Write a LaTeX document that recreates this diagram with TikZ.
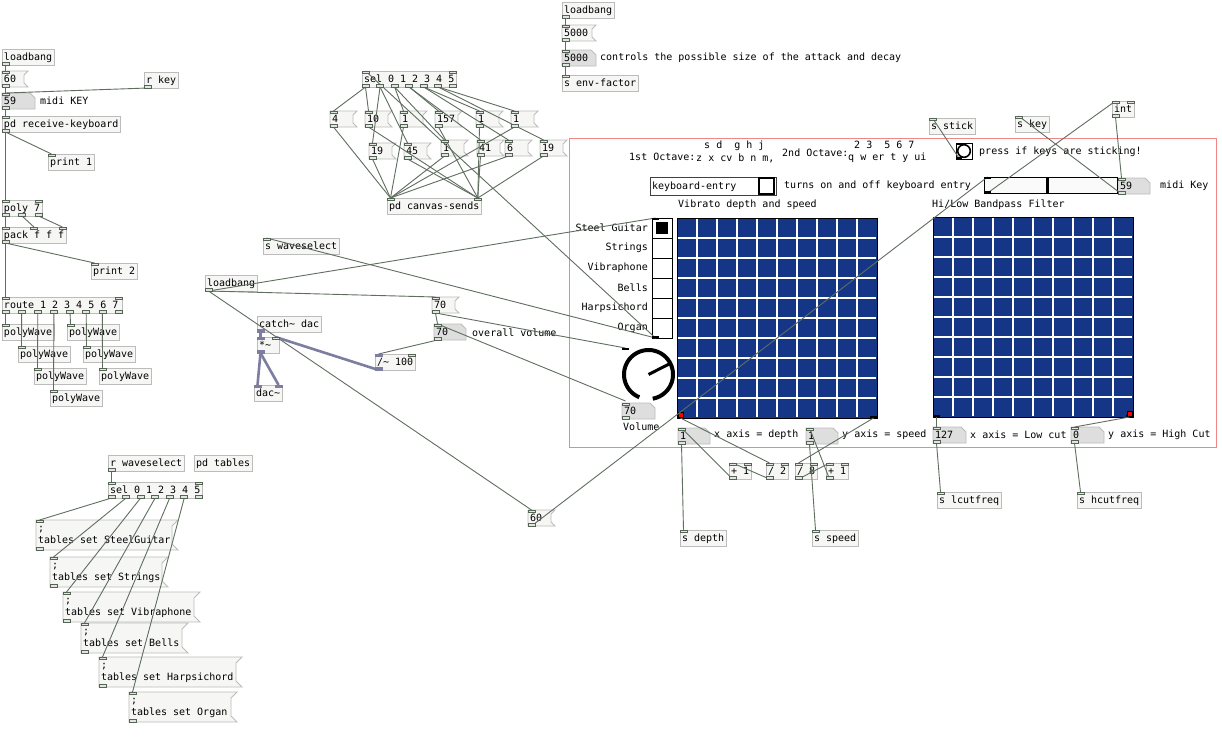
\documentclass[tikz,border=0pt]{standalone}
\usepackage{fontspec}
\newfontfamily\pdfont{DejaVu Sans Mono}
\usetikzlibrary{calc}
\pgfdeclarelayer{background}
\pgfsetlayers{background,main}
\definecolor{objline}{RGB}{188,188,188}
\definecolor{objfill}{RGB}{246,247,245}
\definecolor{numfill}{RGB}{222,222,222}
\definecolor{wirecol}{RGB}{95,110,95}
\definecolor{iocol}{RGB}{85,100,85}
\definecolor{iofill}{RGB}{225,230,225}
\definecolor{sigcol}{RGB}{125,125,160}
\definecolor{gridblue}{RGB}{21,53,135}
\definecolor{panelred}{RGB}{240,135,135}
\newcommand\pdtxt{\pdfont\fontsize{10pt}{12pt}\selectfont}
\newcommand\bw[2]{\makebox[#1pt][l]{#2}}
\newcommand\ins[2]{\foreach \q in {#2}{\draw[iost] ($(#1.north west)+(\q,0)$) rectangle ++(7,2.5);}}
\newcommand\outs[2]{\foreach \q in {#2}{\draw[iost] ($(#1.south west)+(\q,0)$) rectangle ++(7,-2.5);}}
\newcommand\wire[4]{\draw[wire] ($(#1.south west)+(#2+3.5,0)$) -- ($(#3.north west)+(#4+3.5,0)$);}
\newcommand\msgshape[2][4]{\begin{pgfonlayer}{background}\filldraw[draw=objline, fill=objfill, line width=0.9pt] (#2.north west) -- (#2.north east) -- ($(#2.north east)+(-#1,#1)$) -- ($(#2.south east)+(-#1,-#1)$) -- (#2.south east) -- (#2.south west) -- cycle;\end{pgfonlayer}}
\newcommand\numshape[1]{\begin{pgfonlayer}{background}\filldraw[draw=objline, fill=numfill, line width=0.9pt] (#1.north west) -- ($(#1.north east)+(-5,0)$) -- ($(#1.north east)+(0,5)$) -- (#1.south east) -- (#1.south west) -- cycle;\end{pgfonlayer}}
\newcommand\tlines[2]{\begin{tabular}{@{}l@{}};\\\bw{#1}{#2}\end{tabular}}
\begin{document}
\begin{tikzpicture}[x=1pt,y=-1pt,
 box/.style={anchor=north west, inner xsep=2pt, inner ysep=0pt, outer sep=0pt, minimum height=16pt, text height=7.5pt, text depth=1pt, font=\pdtxt},
 obj/.style={box, draw=objline, fill=objfill, line width=0.9pt},
 msgb/.style={box},
 numb/.style={box},
 tmsg/.style={anchor=north west, inner xsep=2pt, inner ysep=3pt, outer sep=0pt, minimum height=30pt, font=\pdtxt},
 cmt/.style={anchor=west, inner sep=0pt, font=\pdtxt},
 cmtr/.style={anchor=east, inner sep=0pt, font=\pdtxt},
 iem/.style={anchor=north west, inner sep=0pt, outer sep=0pt, draw=black, line width=0.9pt},
 wire/.style={draw=wirecol, line width=0.9pt},
 sig/.style={draw=sigcol, line width=2.6pt},
 iost/.style={draw=iocol, fill=iofill, line width=0.7pt},
 sigio/.style={draw=sigcol, fill=sigcol, line width=0.7pt},
]
\useasboundingbox (0,0) rectangle (1222,748);
\begin{pgfonlayer}{background}\fill[white] (0,0) rectangle (1222,748);\end{pgfonlayer}

% ---------- panel ----------
\draw[panelred, line width=0.9pt] (569,138) rectangle (1216,447);

% ---------- top-left ----------
\node[obj] (lb1) at (2,49) {loadbang};
\node[msgb] (m60) at (2,71) {\bw{22}{60}}; \msgshape{m60}
\node[obj] (rkey) at (144,72) {r key};
\node[numb] (n59) at (2,93) {\bw{29}{59}}; \numshape{n59}
\node[cmt] (c59) at (40,101) {midi KEY};
\node[obj] (prk) at (2,116) {pd receive-keyboard};
\node[obj] (pr1) at (48,154) {print 1};
\node[obj] (poly) at (2,200) {poly 7};
\node[obj] (pack) at (2,227) {pack f f f};
\node[obj] (pr2) at (91,263) {print 2};
\node[obj] (route) at (2,297) {\bw{116}{route 1 2 3 4 5 6 7}};
\node[obj] (pw1) at (2,324) {polyWave};
\node[obj] (pw2) at (18,346) {polyWave};
\node[obj] (pw3) at (34,368) {polyWave};
\node[obj] (pw4) at (50,390) {polyWave};
\node[obj] (pw5) at (67,324) {polyWave};
\node[obj] (pw6) at (83,346) {polyWave};
\node[obj] (pw7) at (99,368) {polyWave};

% ---------- top centre ----------
\node[obj] (lb2) at (562,2) {loadbang};
\node[msgb] (m5000) at (562,25) {\bw{30}{5000}}; \msgshape{m5000}
\node[numb] (n5000) at (562,50) {\bw{30}{5000}}; \numshape{n5000}
\node[cmt] (c5000) at (600,58) {controls the possible size of the attack and decay};
\node[obj] (senv) at (562,75) {s env-factor};

% ---------- sel group ----------
\node[obj] (sel1) at (362,71) {sel 0 1 2 3 4 5};
\node[msgb] (m4) at (330,111) {\bw{23}{4}}; \msgshape{m4}
\node[msgb] (m10) at (365,111) {\bw{23}{10}}; \msgshape{m10}
\node[msgb] (m1a) at (400,111) {\bw{23}{1}}; \msgshape{m1a}
\node[msgb] (m157) at (435,111) {\bw{23}{157}}; \msgshape{m157}
\node[msgb] (m1b) at (476,111) {\bw{23}{1}}; \msgshape{m1b}
\node[msgb] (m1c) at (511,111) {\bw{23}{1}}; \msgshape{m1c}
\node[msgb] (m19) at (369,143) {\bw{23}{19}}; \msgshape{m19}
\node[msgb] (m45) at (404,143) {\bw{23}{45}}; \msgshape{m45}
\node[msgb] (m1d) at (441,140) {\bw{23}{1}}; \msgshape{m1d}
\node[msgb] (m41) at (477,140) {\bw{23}{41}}; \msgshape{m41}
\node[msgb] (m6) at (505,140) {\bw{23}{6}}; \msgshape{m6}
\node[msgb] (m19b) at (540,140) {\bw{23}{19}}; \msgshape{m19b}
\node[obj] (pdcs) at (387,198) {pd canvas-sends};

% ---------- middle ----------
\node[obj] (swave) at (263,238) {s waveselect};
\node[obj] (lb3) at (205,275) {loadbang};
\node[msgb] (m70) at (432,297) {\bw{23}{70}}; \msgshape{m70}
\node[numb] (n70) at (434,324) {\bw{28}{70}}; \numshape{n70}
\node[cmt] (c70) at (472,333) {overall volume};
\node[obj] (catch) at (257,316) {catch\textasciitilde{} dac};
\node[obj] (mul) at (257,337) {\bw{18}{*\textasciitilde}};
\node[obj] (dac) at (254,385) {dac\textasciitilde};
\node[obj] (div) at (375,354) {/\textasciitilde{} 100};
\node[msgb] (m60b) at (528,510) {\bw{23}{60}}; \msgshape{m60b}

% ---------- panel contents ----------
\node[cmt] (oct1) at (629,157) {1st Octave:};
\node[cmt] (oct1b) at (704,146) {s d\ \ g h j};
\node[cmt] (oct1c) at (696,158) {z x cv b n m,};
\node[cmt] (oct2) at (782,153) {2nd Octave:};
\node[cmt] (oct2b) at (854,145) {2 3\ \ 5 6 7};
\node[cmt] (oct2c) at (848,158) {q w er t y ui};
\node[iem, fill=white, minimum size=16pt] (bang) at (956,143) {};
\draw[line width=1.6pt] (bang.center) circle[radius=6.3pt];
\node[cmt] (cstick) at (979,152) {press if keys are sticking!};
\node[iem, fill=white, draw=black!75, minimum height=18pt, inner xsep=2pt, font=\pdtxt, text height=7.5pt, text depth=1pt] (kbe) at (650,177) {\bw{122}{keyboard-entry}};
\node[iem, fill=white, minimum width=15pt, minimum height=16pt, line width=1.3pt] (tog) at (759,178) {};
\node[cmt] (ckbe) at (784,186) {turns on and off keyboard entry};
\node[iem, fill=black!2, minimum width=133pt, minimum height=16pt] (hsl) at (984,177) {};
\draw[line width=3pt] ($(hsl.north west)+(63,0)$) -- ($(hsl.south west)+(63,0)$);
\node[numb] (n59b) at (1118,178) {\bw{28}{59}}; \numshape{n59b}
\node[cmt] (cmk) at (1160,186) {midi Key};
\node[cmt] (cvib) at (678,205) {Vibrato depth and speed};
\node[cmt] (cbp) at (932,205) {Hi/Low Bandpass Filter};

% radio
\node[iem, fill=white, minimum width=20pt, minimum height=120pt] (radio) at (652,218) {};
\foreach \k in {1,...,5} \draw[line width=0.9pt] ($(radio.north west)+(0,20*\k)$) -- ($(radio.north east)+(0,20*\k)$);
\fill ($(radio.north west)+(4,4)$) rectangle ++(12,12);
\node[cmtr] (r1) at (648,228) {Steel Guitar};
\node[cmtr] (r2) at (648,248) {Strings};
\node[cmtr] (r3) at (648,268) {Vibraphone};
\node[cmtr] (r4) at (648,288) {Bells};
\node[cmtr] (r5) at (648,308) {Harpsichord};
\node[cmtr] (r6) at (648,328) {Organ};

% grids
\node[iem, fill=gridblue, minimum width=200pt, minimum height=200pt] (g1) at (677,218) {};
\node[iem, fill=gridblue, minimum width=200pt, minimum height=200pt] (g2) at (933,217) {};
\foreach \g in {g1,g2}{
  \foreach \k in {1,...,9}{
    \draw[white, line width=1.3pt] ($(\g.north west)+(20*\k,0.6)$) -- ($(\g.south west)+(20*\k,-0.6)$);
    \draw[white, line width=1.3pt] ($(\g.north west)+(0.6,20*\k)$) -- ($(\g.north east)+(-0.6,20*\k)$);
  }
  \fill ($(\g.south west)+(0,0.5)$) rectangle ++(7,-2.5);
  \fill ($(\g.south east)+(-7,0.5)$) rectangle ++(7,-2.5);
}
\draw[fill=red, draw=black, line width=0.5pt] ($(g1.south west)+(1,-1)$) rectangle ++(5,-5);
\draw[fill=red, draw=black, line width=0.5pt] ($(g2.south east)+(-6,-1)$) rectangle ++(5,-5);

% knob
\node[anchor=north west, minimum size=53pt, inner sep=0pt, outer sep=0pt] (knob) at (622,348) {};
\draw[line width=4pt] plot[domain=112:440, samples=80] ({648.5+24.5*cos(\x)},{374.5+24.5*sin(\x)});
\draw[line width=3pt] (knob.center) -- ++(-27:23);
\node[numb] (nvol) at (622,403) {\bw{29}{70}}; \numshape{nvol}
\node[cmt] (cvol) at (623,427) {Volume};

\node[numb] (ndepth) at (678,428) {\bw{28}{1}}; \numshape{ndepth}
\node[cmt] (cdepth) at (714,435) {x axis = depth};
\node[numb] (nspeed) at (806,428) {\bw{28}{1}}; \numshape{nspeed}
\node[cmt] (cspeed) at (842,435) {y axis = speed};
\node[numb] (n127) at (933,427) {\bw{29}{127}}; \numshape{n127}
\node[cmt] (clow) at (970,435) {x axis = Low cut};
\node[numb] (n0) at (1071,427) {\bw{29}{0}}; \numshape{n0}
\node[cmt] (chigh) at (1108,435) {y axis = High Cut};

\node[obj] (plus1) at (729,463) {+ 1};
\node[obj] (div2) at (766,463) {/ 2};
\node[obj] (div8) at (795,463) {/ 8};
\node[obj] (plus1b) at (826,463) {+ 1};
\node[obj] (sdepth) at (680,530) {s depth};
\node[obj] (sspeed) at (812,530) {s speed};
\node[obj] (slcut) at (937,492) {s lcutfreq};
\node[obj] (shcut) at (1077,492) {s hcutfreq};

\node[obj] (sstick) at (929,118) {s stick};
\node[obj] (skey) at (1015,116) {s key};
\node[obj] (intb) at (1112,101) {int};

% ---------- bottom-left ----------
\node[obj] (rws) at (108,455) {r waveselect};
\node[obj] (pdt) at (194,455) {pd tables};
\node[obj] (sel2) at (108,482) {sel 0 1 2 3 4 5};
\node[tmsg] (tm1) at (36,520) {\tlines{138}{tables set SteelGuitar}}; \msgshape[6]{tm1}
\node[tmsg] (tm2) at (50,557) {\tlines{114}{tables set Strings}}; \msgshape[6]{tm2}
\node[tmsg] (tm3) at (63,592) {\tlines{133}{tables set Vibraphone}}; \msgshape[6]{tm3}
\node[tmsg] (tm4) at (81,623) {\tlines{103}{tables set Bells}}; \msgshape[6]{tm4}
\node[tmsg] (tm5) at (99,657) {\tlines{139}{tables set Harpsichord}}; \msgshape[6]{tm5}
\node[tmsg] (tm6) at (129,692) {\tlines{104}{tables set Organ}}; \msgshape[6]{tm6}

% ================= wires =================
\wire{lb1}{0}{m60}{0}
\wire{m60}{0}{n59}{0}
\wire{rkey}{0}{n59}{0}
\wire{n59}{0}{prk}{0}
\wire{prk}{0}{pr1}{0}
\wire{prk}{0}{poly}{0}
\wire{poly}{0}{pack}{0}
\wire{poly}{16.5}{pack}{28.5}
\wire{poly}{33}{pack}{57}
\wire{pack}{0}{pr2}{0}
\wire{pack}{0}{route}{0}
\wire{route}{0}{pw1}{0}
\wire{route}{16.14}{pw2}{0}
\wire{route}{32.29}{pw3}{0}
\wire{route}{48.43}{pw4}{0}
\wire{route}{64.57}{pw5}{0}
\wire{route}{80.71}{pw6}{0}
\wire{route}{96.86}{pw7}{0}

\wire{lb2}{0}{m5000}{0}
\wire{m5000}{0}{n5000}{0}
\wire{n5000}{0}{senv}{0}

\wire{sel1}{0}{m4}{0}
\wire{sel1}{0}{m10}{0}
\wire{sel1}{14.55}{m19}{0}
\wire{sel1}{14.55}{m45}{0}
\wire{sel1}{29.1}{m1a}{0}
\wire{sel1}{29.1}{m1d}{0}
\wire{sel1}{43.65}{m157}{0}
\wire{sel1}{43.65}{m41}{0}
\wire{sel1}{58.2}{m1b}{0}
\wire{sel1}{58.2}{m6}{0}
\wire{sel1}{72.75}{m1c}{0}
\wire{sel1}{72.75}{m19b}{0}
\foreach \m in {m4,m19,m1a,m1d,m6,m1c} {\wire{\m}{0}{pdcs}{0}}
\foreach \m in {m10,m45,m157,m1b,m41,m19b} {\wire{\m}{0}{pdcs}{87.3}}

\wire{radio}{0}{sel1}{0}
\wire{radio}{0}{swave}{0}
\wire{lb3}{0}{radio}{0}
\wire{lb3}{0}{m70}{0}
\wire{lb3}{0}{m60b}{0}
\wire{m70}{0}{n70}{0}
\wire{m70}{0}{knob}{0}
\draw[wire] ($(knob.south west)+(3.5,0)$) -- ($(n70.north west)+(3.5,0)$);
\wire{n70}{0}{div}{0}
\wire{m60b}{0}{hsl}{0}
\wire{hsl}{0}{intb}{0}
\wire{intb}{0}{n59b}{0}
\draw[wire] ($(n59b.south west)+(3.5,0)$) -- ($(skey.north west)+(3.5,0)$);
\draw[wire] ($(bang.south west)+(3.5,0)$) -- ($(sstick.north west)+(3.5,0)$);

\draw[sig] ($(catch.south west)+(3.5,0)$) -- ($(mul.north west)+(3.5,0)$);
\draw[sig] ($(div.south west)+(3.5,0)$) -- ($(mul.north east)+(-3.5,0)$);
\draw[sig] ($(mul.south west)+(3.5,0)$) -- ($(dac.north west)+(3.5,0)$);
\draw[sig] ($(mul.south west)+(3.5,0)$) -- ($(dac.north east)+(-3.5,0)$);

\wire{g1}{0}{div2}{0}
\draw[wire] ($(g1.south east)+(-3.5,0)$) -- ($(div8.north west)+(3.5,0)$);
\wire{div2}{0}{plus1}{0}
\wire{plus1}{0}{ndepth}{0}
\wire{div8}{0}{plus1b}{0}
\wire{plus1b}{0}{nspeed}{0}
\wire{ndepth}{0}{sdepth}{0}
\wire{nspeed}{0}{sspeed}{0}
\wire{g2}{0}{n127}{0}
\draw[wire] ($(g2.south east)+(-3.5,0)$) -- ($(n0.north west)+(3.5,0)$);
\wire{n127}{0}{slcut}{0}
\wire{n0}{0}{shcut}{0}

\wire{rws}{0}{sel2}{0}
\wire{sel2}{0}{tm1}{0}
\wire{sel2}{14.55}{tm2}{0}
\wire{sel2}{29.1}{tm3}{0}
\wire{sel2}{43.65}{tm4}{0}
\wire{sel2}{58.2}{tm5}{0}
\wire{sel2}{72.75}{tm6}{0}

% ================= inlets / outlets =================
\outs{lb1}{0} \ins{m60}{0} \outs{m60}{0} \outs{rkey}{0}
\ins{n59}{0} \outs{n59}{0} \ins{prk}{0} \outs{prk}{0} \ins{pr1}{0}
\ins{poly}{0,33} \outs{poly}{0,16.5,33} \ins{pack}{0,28.5,57} \outs{pack}{0}
\ins{pr2}{0} \ins{route}{0,113} \outs{route}{0,16.14,32.29,48.43,64.57,80.71,96.86,113}
\foreach \p in {pw1,pw2,pw3,pw4,pw5,pw6,pw7} {\ins{\p}{0}}
\outs{lb2}{0} \ins{m5000}{0} \outs{m5000}{0} \ins{n5000}{0} \outs{n5000}{0} \ins{senv}{0}
\ins{sel1}{0,87.3} \outs{sel1}{0,14.55,29.1,43.65,58.2,72.75,87.3}
\foreach \m in {m4,m10,m1a,m157,m1b,m1c,m19,m45,m1d,m41,m6,m19b} {\ins{\m}{0} \outs{\m}{0}}
\ins{pdcs}{0,87.3}
\ins{swave}{0} \outs{lb3}{0} \ins{m70}{0} \outs{m70}{0} \ins{n70}{0} \outs{n70}{0}
\ins{m60b}{0} \outs{m60b}{0}
\draw[sigio] ($(catch.south west)$) rectangle ++(7,-2.5);
\draw[sigio] ($(mul.north west)$) rectangle ++(7,2.5);
\ins{mul}{15}
\draw[sigio] ($(mul.south west)$) rectangle ++(7,-2.5);
\draw[sigio] ($(dac.north west)$) rectangle ++(7,2.5);
\draw[sigio] ($(dac.north west)+(21,0)$) rectangle ++(7,2.5);
\draw[sigio] ($(div.north west)$) rectangle ++(7,2.5);
\ins{div}{33}
\draw[sigio] ($(div.south west)$) rectangle ++(7,-2.5);
\foreach \n in {nvol,ndepth,nspeed,n127,n0,n59b} {\ins{\n}{0} \outs{\n}{0}}
\foreach \n in {plus1,div2,div8,plus1b} {\ins{\n}{0,15} \outs{\n}{0}}
\foreach \n in {sdepth,sspeed,slcut,shcut,sstick,skey} {\ins{\n}{0}}
\ins{intb}{0,15} \outs{intb}{0}
\outs{rws}{0} \ins{sel2}{0,87.3} \outs{sel2}{0,14.55,29.1,43.65,58.2,72.75,87.3}
\foreach \t in {tm1,tm2,tm3,tm4,tm5,tm6} {\ins{\t}{0} \outs{\t}{0}}
% gui io marks
\fill (radio.north west) rectangle ++(7,2);
\fill (radio.south west) rectangle ++(7,-2);
\fill (hsl.north west) rectangle ++(7,2);
\fill (hsl.south west) rectangle ++(7,-2);
\fill (bang.south west) rectangle ++(6,-2);
\fill (bang.north west) rectangle ++(6,2);
\fill (knob.north west) rectangle ++(7,1.8);
\end{tikzpicture}
\end{document}
